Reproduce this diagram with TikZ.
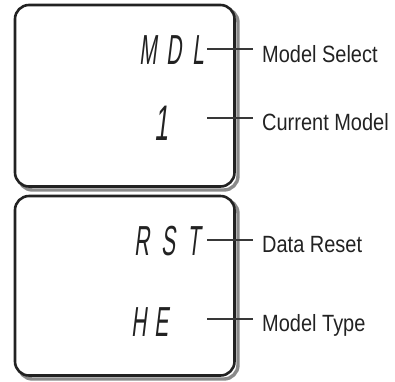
\documentclass[tikz,border=0pt]{standalone}
\usepackage{fontspec}
\setmainfont{Liberation Sans}
\newfontfamily\lblfont[FakeStretch=0.85]{Liberation Sans}
\newfontfamily\lcdfont[FakeStretch=0.5,FakeSlant=0.12]{Liberation Sans}
\definecolor{ink}{HTML}{222222}
\definecolor{shade}{HTML}{8A8A8A}
\tikzset{
  lcdbox/.style={draw=ink, line width=2.6pt, fill=white, rounded corners=14pt},
  boxshadow/.style={draw=shade, line width=3.4pt, rounded corners=14pt},
  lcdtext/.style={inner sep=0pt, text=ink, font=\fontsize{42}{42}\selectfont\lcdfont},
  lcddigit/.style={inner sep=0pt, text=ink, font=\fontsize{50}{50}\selectfont\lcdfont},
  lbl/.style={inner xsep=9pt, inner ysep=0pt, anchor=base west, text=ink, font=\fontsize{23.5}{24}\selectfont\lblfont},
  leader/.style={draw=ink!90, line width=1.3pt}
}
\begin{document}
\begin{tikzpicture}[x=1pt,y=-1pt]
\useasboundingbox (0,0) rectangle (395,381);
% top display
\draw[boxshadow] (18.5,8.5) rectangle (238,190);
\draw[lcdbox] (15,5) rectangle (234.5,186.5);
% bottom display
\draw[boxshadow] (18.5,199.5) rectangle (238,379);
\draw[lcdbox] (15,196) rectangle (234.5,375.5);
% LCD texts
\node[lcdtext, anchor=east] (mdl) at (204,50.5) {M\kern10pt D\kern10pt L};
\node[lcddigit, anchor=east] (one) at (169,123) {1};
\node[lcdtext, anchor=east] (rst) at (201,241) {R\kern12pt S\kern12pt T};
\node[lcdtext, anchor=east] (he) at (169,322.5) {H\kern8pt E};
% labels
\node[lbl] (sel) at (253,62) {Model Select};
\node[lbl] (cur) at (253,130) {Current Model};
\node[lbl] (res) at (253,252) {Data Reset};
\node[lbl] (typ) at (253,331) {Model Type};
% leader start points
\coordinate (c1) at (207,49);
\coordinate (c2) at (207,118);
\coordinate (c3) at (207,240);
\coordinate (c4) at (207,319);
\draw[leader] (c1) -- (c1 -| sel.west);
\draw[leader] (c2) -- (c2 -| cur.west);
\draw[leader] (c3) -- (c3 -| res.west);
\draw[leader] (c4) -- (c4 -| typ.west);
\end{tikzpicture}
\end{document}
